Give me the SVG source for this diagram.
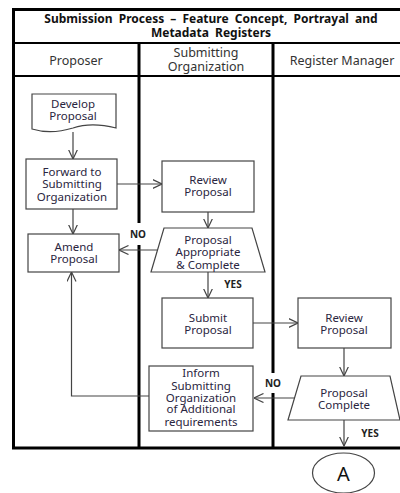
<svg xmlns="http://www.w3.org/2000/svg" width="400" height="493" viewBox="0 0 400 493">
<defs>
<marker id="arr" viewBox="0 0 10 10" refX="9.5" refY="5" markerWidth="10" markerHeight="10" markerUnits="userSpaceOnUse" orient="auto">
<path d="M0,0.5 L9.5,5 L0,9.5" fill="none" stroke="#444" stroke-width="1.2"/>
</marker>
</defs>
<style>
text{font-family:"Noto Sans","DejaVu Sans",sans-serif;fill:#2a2540;text-anchor:middle}
.t{font-size:12px;font-weight:bold;fill:#111;word-spacing:3px}
.h{font-size:12.5px;fill:#333}
.n{font-size:11.5px}
.lb{font-size:10px;font-weight:bold;fill:#222}
.box{fill:#fff;stroke:#444;stroke-width:1.2}
.frame{stroke:#000;fill:none}
.c{fill:none;stroke:#444;stroke-width:1.2}
</style>
<rect width="400" height="493" fill="#fff"/>
<g id="frame">
<path class="frame" d="M13.5,448 V9.5 H402" stroke-width="3"/>
<path class="frame" d="M13,43 H402 M13,76 H402" stroke-width="2"/>
<path class="frame" d="M12,448 H402" stroke-width="3"/>
<path class="frame" d="M139,43 V223 M139,245 V448" stroke-width="3"/>
<path class="frame" d="M273,43 V373 M273,393 V448" stroke-width="3"/>
<text class="t" x="211" y="23">Submission Process – Feature Concept, Portrayal and</text>
<text class="t" x="211" y="37">Metadata Registers</text>
<text class="h" x="76" y="65">Proposer</text>
<text class="h" x="206" y="57">Submitting</text>
<text class="h" x="206" y="71">Organization</text>
<text class="h" x="342" y="65">Register Manager</text>
</g>
<g id="connectors">
<path class="c" d="M73,132 V159" marker-end="url(#arr)"/>
<path class="c" d="M117,184 H162" marker-end="url(#arr)"/>
<path class="c" d="M208,212 V228" marker-end="url(#arr)"/>
<path class="c" d="M73,209 V234" marker-end="url(#arr)"/>
<path class="c" d="M157,250 H119" marker-end="url(#arr)"/>
<path class="c" d="M149,396 H71.5 V272" marker-end="url(#arr)"/>
<path class="c" d="M208,272 V298" marker-end="url(#arr)"/>
<path class="c" d="M253,323 H298" marker-end="url(#arr)"/>
<path class="c" d="M344,348 V376" marker-end="url(#arr)"/>
<path class="c" d="M296,398 H254" marker-end="url(#arr)"/>
<path class="c" d="M344,420 V446" marker-end="url(#arr)"/>
<text class="lb" x="138" y="238">NO</text>
<text class="lb" x="233" y="288">YES</text>
<text class="lb" x="273" y="387">NO</text>
<text class="lb" x="370" y="437">YES</text>
</g>
<g id="develop">
<path class="box" d="M32,94 H116 V128 C100,124 85,124 73,128 C60,132 45,133 32,129 Z"/>
<text class="n" x="73" y="108">Develop</text>
<text class="n" x="73" y="120">Proposal</text>
</g>
<g id="forward">
<rect class="box" x="26" y="159" width="91" height="50"/>
<text class="n" x="72" y="176">Forward to</text>
<text class="n" x="72" y="188">Submitting</text>
<text class="n" x="72" y="201">Organization</text>
</g>
<g id="review1">
<rect class="box" x="162" y="161" width="92" height="51"/>
<text class="n" x="208" y="184">Review</text>
<text class="n" x="208" y="196">Proposal</text>
</g>
<g id="decision1">
<path class="box" d="M164,228 H252 L265,272 H151 Z"/>
<text class="n" x="208" y="244">Proposal</text>
<text class="n" x="208" y="256">Appropriate</text>
<text class="n" x="208" y="269">&amp; Complete</text>
</g>
<g id="amend">
<rect class="box" x="28" y="234" width="91" height="38"/>
<text class="n" x="74" y="251">Amend</text>
<text class="n" x="74" y="263">Proposal</text>
</g>
<g id="submit">
<rect class="box" x="162" y="298" width="91" height="50"/>
<text class="n" x="208" y="322">Submit</text>
<text class="n" x="208" y="334">Proposal</text>
</g>
<g id="review2">
<rect class="box" x="298" y="298" width="93" height="50"/>
<text class="n" x="344" y="322">Review</text>
<text class="n" x="344" y="334">Proposal</text>
</g>
<g id="decision2">
<path class="box" d="M301,376 H390 L400,420 H288 Z"/>
<text class="n" x="344" y="397">Proposal</text>
<text class="n" x="344" y="409">Complete</text>
</g>
<g id="inform">
<rect class="box" x="149" y="366" width="104" height="65"/>
<text class="n" x="201" y="377">Inform</text>
<text class="n" x="201" y="390">Submitting</text>
<text class="n" x="201" y="402">Organization</text>
<text class="n" x="201" y="413">of Additional</text>
<text class="n" x="201" y="426">requirements</text>
</g>
<g id="connectorA">
<ellipse cx="343.5" cy="473" rx="31" ry="20" fill="#fff" stroke="#444" stroke-width="1.2"/>
<text x="343.5" y="481" style="font-size:20px;fill:#111">A</text>
</g>
</svg>
